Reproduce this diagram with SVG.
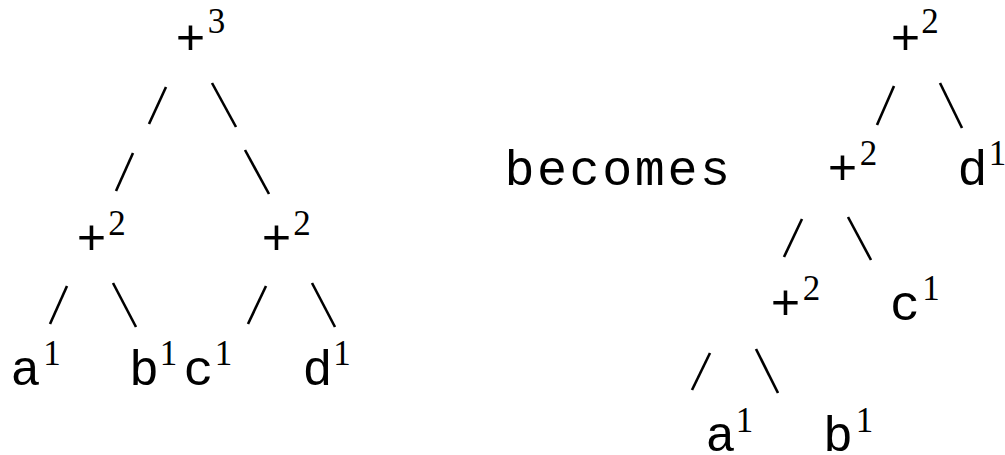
<svg xmlns="http://www.w3.org/2000/svg" width="1005" height="455" viewBox="0 0 1005 455">
<style>
.t{font-family:"Liberation Mono","Courier New",monospace;font-size:50px;fill:#000;text-anchor:middle}
.s{font-family:"Liberation Serif","Times New Roman",serif;font-size:35px;fill:#000;text-anchor:middle}
.c line{stroke:#000;stroke-width:2.6;stroke-linecap:butt}
</style>
<rect width="1005" height="455" fill="#fff"/>
<g id="connectors" class="c">
<line x1="166" y1="87" x2="149" y2="124"/>
<line x1="212" y1="83" x2="236" y2="127"/>
<line x1="133" y1="153" x2="116" y2="191"/>
<line x1="245" y1="150" x2="269" y2="194"/>
<line x1="67" y1="286" x2="50" y2="324"/>
<line x1="113" y1="283" x2="136" y2="327"/>
<line x1="266" y1="286" x2="248" y2="324"/>
<line x1="312" y1="283" x2="335" y2="327"/>
<line x1="894" y1="86" x2="877" y2="125"/>
<line x1="940" y1="83" x2="962" y2="128"/>
<line x1="802" y1="219" x2="784" y2="257"/>
<line x1="848" y1="217" x2="871" y2="260"/>
<line x1="710" y1="353" x2="692" y2="390"/>
<line x1="756" y1="349" x2="778" y2="393"/>
</g>
<g id="L-root"><text class="t" x="190.5" y="54">+</text><text class="s" x="216.5" y="33">3</text></g>
<g id="L-plus-left"><text class="t" x="91.5" y="254">+</text><text class="s" x="117" y="235">2</text></g>
<g id="L-plus-right"><text class="t" x="276.5" y="254">+</text><text class="s" x="302" y="235">2</text></g>
<g id="L-a"><text class="t" x="25.5" y="385">a</text><text class="s" x="52" y="365">1</text></g>
<g id="L-b"><text class="t" x="144" y="385">b</text><text class="s" x="168.5" y="365">1</text></g>
<g id="L-c"><text class="t" x="198.5" y="385">c</text><text class="s" x="223.5" y="365">1</text></g>
<g id="L-d"><text class="t" x="317.5" y="385">d</text><text class="s" x="342" y="365">1</text></g>
<g id="becomes"><text class="t" x="618.5" y="185" style="letter-spacing:2.6px">becomes</text></g>
<g id="R-root"><text class="t" x="905.5" y="54">+</text><text class="s" x="930" y="33">2</text></g>
<g id="R-plus-mid"><text class="t" x="842.5" y="184">+</text><text class="s" x="868.5" y="165">2</text></g>
<g id="R-d"><text class="t" x="972.5" y="185">d</text><text class="s" x="997.5" y="165">1</text></g>
<g id="R-plus-low"><text class="t" x="785.5" y="319">+</text><text class="s" x="811.5" y="300">2</text></g>
<g id="R-c"><text class="t" x="905" y="320">c</text><text class="s" x="931" y="300">1</text></g>
<g id="R-a"><text class="t" x="720.5" y="451">a</text><text class="s" x="744.5" y="432">1</text></g>
<g id="R-b"><text class="t" x="838" y="451">b</text><text class="s" x="864.5" y="432">1</text></g>
</svg>
